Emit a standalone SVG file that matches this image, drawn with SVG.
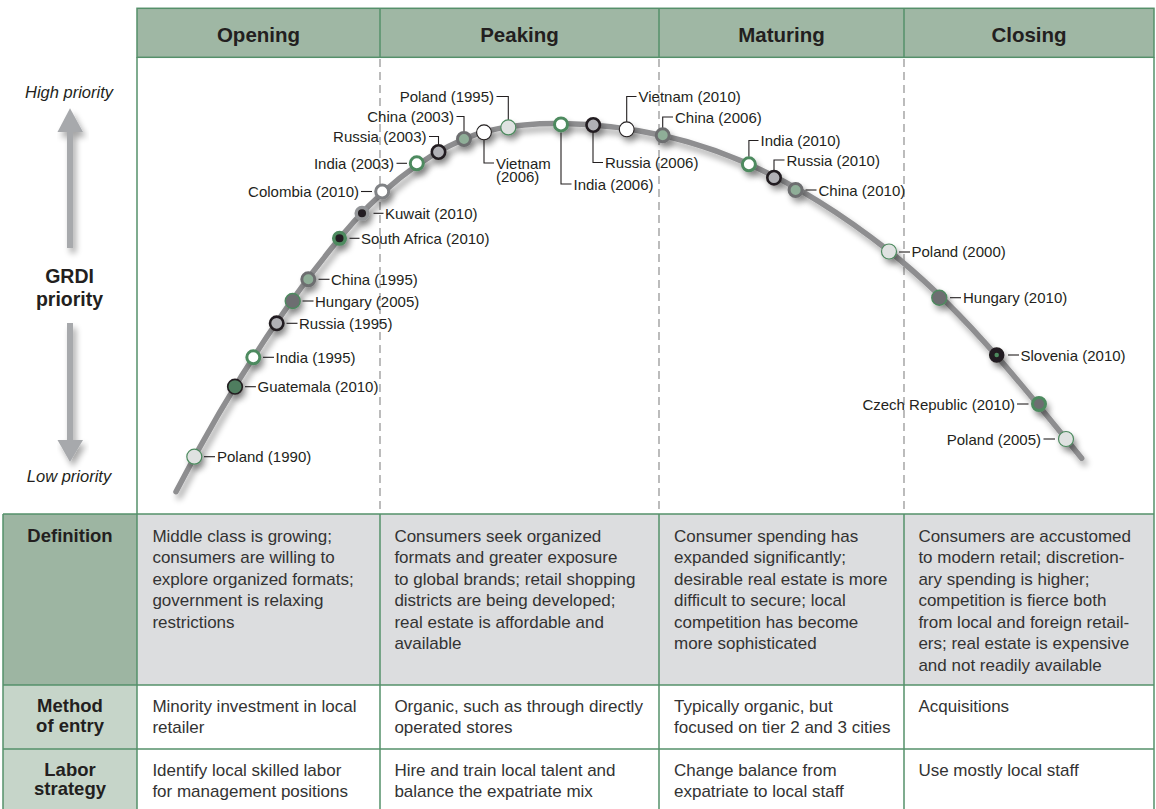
<svg xmlns="http://www.w3.org/2000/svg" width="1156" height="809" viewBox="0 0 1156 809">
<defs>
<filter id="sh" x="-10%" y="-10%" width="130%" height="130%">
<feGaussianBlur in="SourceAlpha" stdDeviation="3"/>
<feOffset dx="3" dy="5" result="b"/>
<feComponentTransfer><feFuncA type="linear" slope="0.35"/></feComponentTransfer>
<feMerge><feMergeNode/><feMergeNode in="SourceGraphic"/></feMerge>
</filter>
<style>
.hd{font-family:"Liberation Sans",Arial,sans-serif;font-weight:bold;font-size:20.5px;fill:#231f20;text-anchor:middle}
.rl{font-family:"Liberation Sans",Arial,sans-serif;font-weight:bold;font-size:18.5px;fill:#231f20;text-anchor:middle}
.ax{font-family:"Liberation Sans",Arial,sans-serif;font-style:italic;font-size:16.5px;fill:#231f20;text-anchor:middle}
.gr{font-family:"Liberation Sans",Arial,sans-serif;font-weight:bold;font-size:19.5px;fill:#231f20;text-anchor:middle}
.tb{font-family:"Liberation Sans",Arial,sans-serif;font-size:17px;fill:#333}
.lb{font-family:"Liberation Sans",Arial,sans-serif;font-size:15px;fill:#231f20}
.e{text-anchor:end}
.grid{stroke:#55906a;stroke-width:1.5;fill:none}
.dash{stroke:#8f8f8f;stroke-width:1.2;stroke-dasharray:8 5;fill:none}
.ld{stroke:#231f20;stroke-width:1.1;fill:none}
.pl{fill:#dfe2e1;stroke:#4d8a5f;stroke-width:1.2}
.in{fill:#fff;stroke:#4d8a5f;stroke-width:3}
.ru{fill:#b1b1b6;stroke:#231f20;stroke-width:2.6}
.ch{fill:#8fae98;stroke:#6d6e70;stroke-width:3}
.vn{fill:#fff;stroke:#231f20;stroke-width:1.1}
.co{fill:#fff;stroke:#808285;stroke-width:3}
.kw{fill:#231f20;stroke:#939598;stroke-width:3.5}
.sa{fill:#231f20;stroke:#4d8a5f;stroke-width:3.5}
.hu{fill:#6d6e71;stroke:#4d8a5f;stroke-width:1.4}
.gu{fill:#4f7d5e;stroke:#231f20;stroke-width:1.6}
.sl{fill:#4d8a5f;stroke:#231f20;stroke-width:5.5}
.cz{fill:#6d6e71;stroke:#4d8a5f;stroke-width:3}
.arr{fill:#a7a9ac}
</style>
</defs>
<rect width="1156" height="809" fill="#fff"/>

<!-- header -->
<g id="header">
<rect x="137" y="8.3" width="1017" height="49" fill="#9fb7a4"/>
<text class="hd" x="258.5" y="41.5">Opening</text>
<text class="hd" x="519.5" y="41.5">Peaking</text>
<text class="hd" x="781.5" y="41.5">Maturing</text>
<text class="hd" x="1029" y="41.5">Closing</text>
</g>

<!-- table backgrounds -->
<g id="table-bg">
<rect x="3" y="514" width="134" height="171" fill="#9db5a2"/>
<rect x="3" y="685" width="134" height="124" fill="#c6d5c9"/>
<rect x="137" y="514" width="1017" height="171" fill="#dcdddf"/>
</g>

<!-- dashed stage dividers -->
<g id="dividers">
<line class="dash" x1="380" y1="59" x2="380" y2="514"/>
<line class="dash" x1="659" y1="59" x2="659" y2="514"/>
<line class="dash" x1="904" y1="59" x2="904" y2="514"/>
</g>

<!-- grid lines -->
<g id="grid" class="grid">
<rect x="137" y="8.3" width="1017" height="49"/>
<line x1="380" y1="8.3" x2="380" y2="57.3"/>
<line x1="659" y1="8.3" x2="659" y2="57.3"/>
<line x1="904" y1="8.3" x2="904" y2="57.3"/>
<line x1="137" y1="57.3" x2="137" y2="809"/>
<line x1="1154" y1="57.3" x2="1154" y2="809"/>
<line x1="3" y1="514" x2="1154" y2="514"/>
<line x1="3" y1="685" x2="1154" y2="685"/>
<line x1="3" y1="749" x2="1154" y2="749"/>
<line x1="3" y1="514" x2="3" y2="809"/>
<line x1="380" y1="514" x2="380" y2="809"/>
<line x1="659" y1="514" x2="659" y2="809"/>
<line x1="904" y1="514" x2="904" y2="809"/>
</g>

<!-- axis -->
<g id="axis">
<text class="ax" x="69" y="98">High priority</text>
<g filter="url(#sh)">
<rect class="arr" x="67" y="131" width="6" height="117"/>
<polygon class="arr" points="57.5,132 83,132 70,108.3"/>
<rect class="arr" x="67" y="323" width="6" height="118"/>
<polygon class="arr" points="57.5,440 83,440 70,462"/>
</g>
<text class="gr" x="69.5" y="283">GRDI</text>
<text class="gr" x="69.5" y="306">priority</text>
<text class="ax" x="69" y="482">Low priority</text>
</g>

<!-- curve -->
<g id="curve" filter="url(#sh)">
<path d="M176,491.7 C222,403 276,315.6 339.6,238.3 C373.3,197.3 415.3,160 464,139 C519.1,115.2 604.1,122.7 662.7,135.5 C745.7,153.7 822.3,198.3 889,251 C962.8,309.3 1022.4,385.4 1081.7,458.3" fill="none" stroke="#8e8e90" stroke-width="5.5" stroke-linecap="round"/>
</g>

<!-- connectors (leader lines) -->
<g id="connectors" class="ld">
<line x1="204" y1="456.7" x2="215" y2="456.7"/>
<line x1="245" y1="386.7" x2="256" y2="386.7"/>
<line x1="263" y1="357.3" x2="274" y2="357.3"/>
<line x1="286.5" y1="323.3" x2="297.5" y2="323.3"/>
<line x1="302.5" y1="301" x2="313.5" y2="301"/>
<line x1="318.5" y1="279.3" x2="329.5" y2="279.3"/>
<line x1="349.5" y1="238.3" x2="359.5" y2="238.3"/>
<line x1="373.5" y1="213.3" x2="383.5" y2="213.3"/>
<line x1="361" y1="191.5" x2="372" y2="191.5"/>
<line x1="396.5" y1="163.3" x2="407" y2="163.3"/>
<polyline points="429,136.5 438.5,136.5 438.5,144.5"/>
<polyline points="456.5,116.5 464,116.5 464,131.5"/>
<polyline points="496.5,96.5 508.3,96.5 508.3,120"/>
<polyline points="484,140 484,163 494,163"/>
<polyline points="561,132.5 561,184 571.5,184"/>
<polyline points="593,132.5 593,162.5 603,162.5"/>
<polyline points="626.7,121.8 626.7,96.5 636.5,96.5"/>
<polyline points="662.7,128 662.7,117 673,117"/>
<polyline points="748.9,156.8 748.9,140.5 758.5,140.5"/>
<polyline points="774,170.2 774,160 784.5,160"/>
<line x1="805.5" y1="190" x2="816.5" y2="190"/>
<line x1="899" y1="252" x2="910" y2="252"/>
<line x1="950" y1="297.7" x2="961" y2="297.7"/>
<line x1="1008" y1="355" x2="1019" y2="355"/>
<line x1="1017" y1="404" x2="1028.5" y2="404"/>
<line x1="1043.5" y1="439" x2="1055" y2="439"/>
</g>

<!-- data points -->
<g id="points" filter="url(#sh)">
<g id="n-poland-1990"><circle class="pl" cx="194.3" cy="456.7" r="7.5"/></g>
<g id="n-guatemala-2010"><circle class="gu" cx="235" cy="386.7" r="7.3"/></g>
<g id="n-india-1995"><circle class="in" cx="253.3" cy="357.3" r="6.5"/></g>
<g id="n-russia-1995"><circle class="ru" cx="276.7" cy="323.3" r="6.7"/></g>
<g id="n-hungary-2005"><circle class="hu" cx="292.7" cy="301" r="7.5"/></g>
<g id="n-china-1995"><circle class="ch" cx="308.3" cy="279.3" r="6.5"/></g>
<g id="n-southafrica-2010"><circle class="sa" cx="339.5" cy="238.3" r="5.8"/></g>
<g id="n-kuwait-2010"><circle class="kw" cx="362" cy="213.3" r="5.8"/></g>
<g id="n-colombia-2010"><circle class="co" cx="382.2" cy="191.5" r="6.5"/></g>
<g id="n-india-2003"><circle class="in" cx="416.8" cy="163.3" r="6.5"/></g>
<g id="n-russia-2003"><circle class="ru" cx="438.5" cy="152" r="6.7"/></g>
<g id="n-china-2003"><circle class="ch" cx="464" cy="139" r="6.5"/></g>
<g id="n-vietnam-2006"><circle class="vn" cx="484" cy="132.3" r="7.4"/></g>
<g id="n-poland-1995"><circle class="pl" cx="508.3" cy="127.4" r="7.5"/></g>
<g id="n-india-2006"><circle class="in" cx="561" cy="124.4" r="6.5"/></g>
<g id="n-russia-2006"><circle class="ru" cx="593.2" cy="125" r="6.7"/></g>
<g id="n-vietnam-2010"><circle class="vn" cx="626.7" cy="129.3" r="7.4"/></g>
<g id="n-china-2006"><circle class="ch" cx="662.7" cy="135.3" r="6.5"/></g>
<g id="n-india-2010"><circle class="in" cx="748.9" cy="164.3" r="6.5"/></g>
<g id="n-russia-2010"><circle class="ru" cx="774" cy="177.7" r="6.7"/></g>
<g id="n-china-2010"><circle class="ch" cx="795.6" cy="190" r="6.5"/></g>
<g id="n-poland-2000"><circle class="pl" cx="889" cy="251.5" r="7.5"/></g>
<g id="n-hungary-2010"><circle class="hu" cx="939.3" cy="297.7" r="7.5"/></g>
<g id="n-slovenia-2010"><circle class="sl" cx="996.7" cy="355" r="5"/></g>
<g id="n-czech-2010"><circle class="cz" cx="1039" cy="404" r="6.5"/></g>
<g id="n-poland-2005"><circle class="pl" cx="1066" cy="439" r="7.5"/></g>
</g>

<!-- point labels -->
<g id="labels">
<text class="lb" x="217" y="462.2">Poland (1990)</text>
<text class="lb" x="257.5" y="392.2">Guatemala (2010)</text>
<text class="lb" x="275.5" y="362.8">India (1995)</text>
<text class="lb" x="299" y="328.8">Russia (1995)</text>
<text class="lb" x="315" y="306.5">Hungary (2005)</text>
<text class="lb" x="331" y="284.8">China (1995)</text>
<text class="lb" x="361" y="243.8">South Africa (2010)</text>
<text class="lb" x="385" y="218.8">Kuwait (2010)</text>
<text class="lb e" x="359" y="197">Colombia (2010)</text>
<text class="lb e" x="394" y="168.8">India (2003)</text>
<text class="lb e" x="426.5" y="142">Russia (2003)</text>
<text class="lb e" x="454" y="122">China (2003)</text>
<text class="lb e" x="494" y="102">Poland (1995)</text>
<text class="lb" x="496" y="168.5">Vietnam<tspan x="496" dy="13">(2006)</tspan></text>
<text class="lb" x="573.5" y="189.5">India (2006)</text>
<text class="lb" x="605" y="168">Russia (2006)</text>
<text class="lb" x="638.5" y="102">Vietnam (2010)</text>
<text class="lb" x="675" y="122.5">China (2006)</text>
<text class="lb" x="760.5" y="146">India (2010)</text>
<text class="lb" x="786.5" y="165.5">Russia (2010)</text>
<text class="lb" x="818.5" y="195.5">China (2010)</text>
<text class="lb" x="911.5" y="257.3">Poland (2000)</text>
<text class="lb" x="963" y="303.2">Hungary (2010)</text>
<text class="lb" x="1020.5" y="360.5">Slovenia (2010)</text>
<text class="lb e" x="1015" y="409.5">Czech Republic (2010)</text>
<text class="lb e" x="1041" y="444.5">Poland (2005)</text>
</g>

<!-- table texts -->
<g id="row-labels">
<text class="rl" x="70" y="541.7">Definition</text>
<text class="rl" x="70" y="711.7">Method</text>
<text class="rl" x="70" y="731.5">of entry</text>
<text class="rl" x="70" y="776">Labor</text>
<text class="rl" x="70" y="795">strategy</text>
</g>
<g id="definition-row" class="tb">
<text x="152.4" y="541.7">Middle class is growing;</text>
<text x="152.4" y="563.2">consumers are willing to</text>
<text x="152.4" y="584.7">explore organized formats;</text>
<text x="152.4" y="606.2">government is relaxing</text>
<text x="152.4" y="627.7">restrictions</text>
<text x="394.4" y="541.7">Consumers seek organized</text>
<text x="394.4" y="563.2">formats and greater exposure</text>
<text x="394.4" y="584.7">to global brands; retail shopping</text>
<text x="394.4" y="606.2">districts are being developed;</text>
<text x="394.4" y="627.7">real estate is affordable and</text>
<text x="394.4" y="649.2">available</text>
<text x="674" y="541.7">Consumer spending has</text>
<text x="674" y="563.2">expanded significantly;</text>
<text x="674" y="584.7">desirable real estate is more</text>
<text x="674" y="606.2">difficult to secure; local</text>
<text x="674" y="627.7">competition has become</text>
<text x="674" y="649.2">more sophisticated</text>
<text x="918.4" y="541.7">Consumers are accustomed</text>
<text x="918.4" y="563.2">to modern retail; discretion-</text>
<text x="918.4" y="584.7">ary spending is higher;</text>
<text x="918.4" y="606.2">competition is fierce both</text>
<text x="918.4" y="627.7">from local and foreign retail-</text>
<text x="918.4" y="649.2">ers; real estate is expensive</text>
<text x="918.4" y="670.7">and not readily available</text>
</g>
<g id="method-row" class="tb">
<text x="152.4" y="711.7">Minority investment in local</text>
<text x="152.4" y="733.2">retailer</text>
<text x="394.4" y="711.7">Organic, such as through directly</text>
<text x="394.4" y="733.2">operated stores</text>
<text x="674" y="711.7">Typically organic, but</text>
<text x="674" y="733.2">focused on tier 2 and 3 cities</text>
<text x="918.4" y="711.7">Acquisitions</text>
</g>
<g id="labor-row" class="tb">
<text x="152.4" y="775.5">Identify local skilled labor</text>
<text x="152.4" y="797">for management positions</text>
<text x="394.4" y="775.5">Hire and train local talent and</text>
<text x="394.4" y="797">balance the expatriate mix</text>
<text x="674" y="775.5">Change balance from</text>
<text x="674" y="797">expatriate to local staff</text>
<text x="918.4" y="775.5">Use mostly local staff</text>
</g>
</svg>
